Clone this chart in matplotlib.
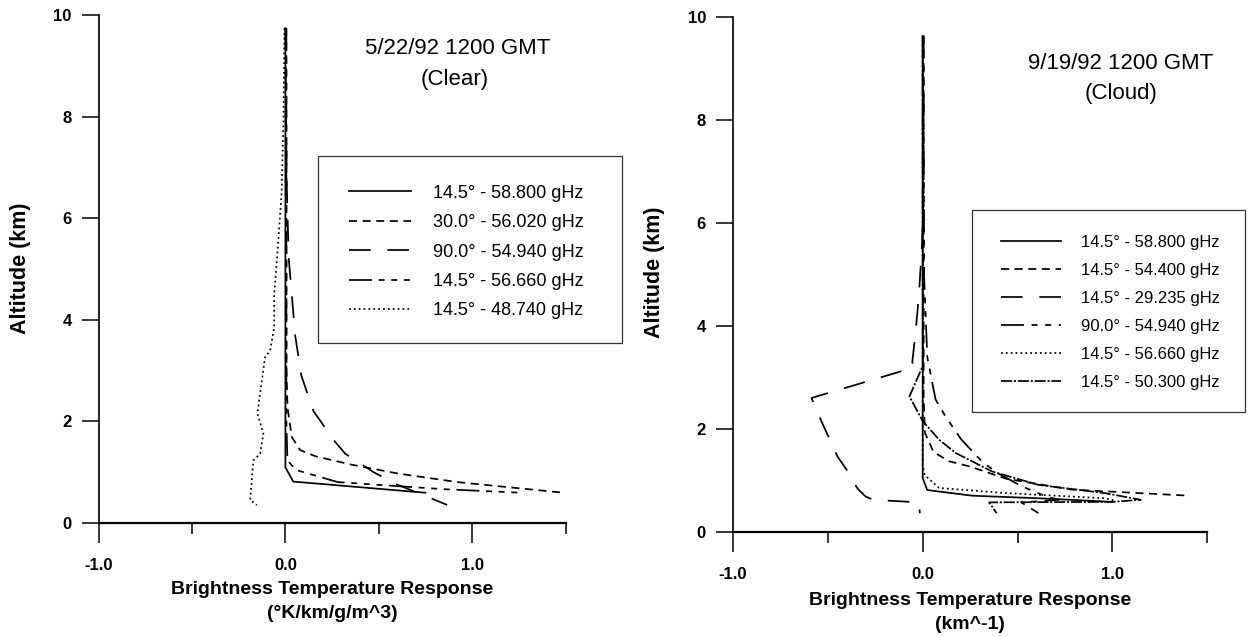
import matplotlib
matplotlib.use("Agg")
import matplotlib.pyplot as plt
from matplotlib.lines import Line2D
from matplotlib.patches import Rectangle

plt.rcParams['font.family'] = ['Liberation Sans', 'DejaVu Sans']
plt.rcParams['lines.scale_dashes'] = False

# ---------------- data: left panel (5/22/92 clear) ----------------
left_labels = ["14.5\u00b0 - 58.800 gHz", "30.0\u00b0 - 56.020 gHz", "90.0\u00b0 - 54.940 gHz",
               "14.5\u00b0 - 56.660 gHz", "14.5\u00b0 - 48.740 gHz"]
l_5880_x = [0.0, 0.0, 0.042, 0.75]
l_5880_y = [9.74, 1.09, 0.81, 0.59]
l_5602_x = [0.005, 0.006, 0.011, 0.034, 0.079, 0.16, 0.345, 0.60, 0.92, 1.49]
l_5602_y = [9.74, 3.0, 2.28, 1.69, 1.43, 1.31, 1.15, 0.97, 0.80, 0.59]
l_5494_x = [0.0, 0.004, 0.008, 0.018, 0.034, 0.052, 0.085, 0.15, 0.26, 0.32, 0.47, 0.58, 0.70, 0.866]
l_5494_y = [9.74, 7.8, 6.5, 5.2, 4.5, 3.7, 2.9, 2.2, 1.62, 1.36, 1.0, 0.78, 0.60, 0.35]
l_5666_x = [0.005, 0.005, 0.011, 0.055, 0.28, 0.60, 0.85, 1.26]
l_5666_y = [9.74, 2.0, 1.23, 1.04, 0.80, 0.72, 0.66, 0.59]
l_4874_x = [-0.005, -0.01, -0.02, -0.045, -0.06, -0.06, -0.082, -0.109, -0.15, -0.118, -0.135, -0.171, -0.189, -0.153]
l_4874_y = [9.74, 8.0, 6.5, 5.2, 4.5, 3.85, 3.39, 3.26, 2.15, 1.76, 1.36, 1.23, 0.446, 0.348]

# ---------------- data: right panel (9/19/92 cloud) ----------------
right_labels = ["14.5\u00b0 - 58.800 gHz", "14.5\u00b0 - 54.400 gHz", "14.5\u00b0 - 29.235 gHz",
                "90.0\u00b0 - 54.940 gHz", "14.5\u00b0 - 56.660 gHz", "14.5\u00b0 - 50.300 gHz"]
r_5880_x = [0.0, 0.0, 0.024, 0.26, 0.61, 1.0]
r_5880_y = [9.64, 1.04, 0.81, 0.70, 0.65, 0.58]
r_5440_x = [0.005, 0.005, 0.012, 0.057, 0.138, 0.246, 0.44, 0.78, 1.405]
r_5440_y = [9.64, 2.6, 1.92, 1.55, 1.37, 1.27, 1.03, 0.82, 0.70]
r_2924_x = [0.0, 0.0, -0.005, -0.02, -0.037, -0.055, -0.048, -0.586, -0.554, -0.449, -0.40, -0.344, -0.30, -0.26, -0.02, -0.015]
r_2924_y = [9.64, 6.0, 5.5, 4.6, 3.9, 3.3, 3.19, 2.6, 2.31, 1.46, 1.2, 0.84, 0.68, 0.62, 0.57, 0.36]
r_5494_x = [0.005, 0.007, 0.024, 0.05, 0.068, 0.12, 0.204, 0.313, 0.394, 0.524, 0.647, 0.717, 0.52, 0.61]
r_5494_y = [9.64, 5.0, 3.4, 2.9, 2.57, 2.24, 1.79, 1.36, 1.14, 0.88, 0.69, 0.62, 0.57, 0.36]
r_5666_x = [0.0, 0.0, 0.01, 0.086, 0.44, 0.96, 1.02]
r_5666_y = [9.64, 1.3, 1.1, 0.85, 0.75, 0.65, 0.60]
r_5030_x = [0.0, 0.0, -0.07, 0.0, 0.086, 0.174, 0.366, 0.61, 0.96, 1.15, 1.0, 0.35, 0.39]
r_5030_y = [9.64, 3.22, 2.63, 2.15, 1.79, 1.53, 1.17, 0.91, 0.75, 0.62, 0.58, 0.57, 0.36]

x_major = [-1.0, 0.0, 1.0]
x_major_labels = ["-1.0", "0.0", "1.0"]
x_minor = [-0.5, 0.5, 1.5]
y_ticks = [0, 2, 4, 6, 8, 10]
y_tick_labels = ["0", "2", "4", "6", "8", "10"]

# ---------------- styles ----------------
SOLID = '-'
SHORT = (0, (5.8, 4.0))
LONG = (0, (15.6, 12.0))
LSSS = (0, (16.5, 4.8, 4.3, 4.8, 4.3, 4.8, 4.3, 4.8))
LSS = (0, (16.5, 5.5, 4.3, 5.5, 4.3, 5.5))
DOT = (0, (1.3, 2.2))
DDOT = (0, (8.0, 1.3, 1.5, 1.3))
LW = 1.25

W, H = 1255, 637
def fx(px):
    return px / W
def fy(py):
    return 1 - py / H

fig = plt.figure(figsize=(W / 100, H / 100), dpi=100)
axL = fig.add_axes([fx(98.6), fy(522.7), (565.6 - 98.6) / W, (522.7 - 15) / H])
axR = fig.add_axes([fx(733), fy(531.7), (1207.3 - 733) / W, (531.7 - 17.3) / H])


def style_axis(ax):
    ax.set_xlim(-1, 1.5)
    ax.set_ylim(0, 10)
    for s in ('top', 'right'):
        ax.spines[s].set_visible(False)
    ax.spines['left'].set_linewidth(1.2)
    ax.spines['bottom'].set_linewidth(1.6)
    ax.set_xticks(x_major)
    ax.set_xticklabels(x_major_labels)
    ax.set_xticks(x_minor, minor=True)
    ax.set_yticks(y_ticks)
    ax.set_yticklabels(y_tick_labels)
    ax.tick_params(axis='x', which='major', direction='out', length=14.4, width=1.1, pad=11, labelsize=12)
    ax.tick_params(axis='x', which='minor', direction='out', length=7.7, width=1.1)
    ax.tick_params(axis='y', direction='out', length=12, width=1.1, pad=7.5, labelsize=12)
    for lab in ax.get_xticklabels() + ax.get_yticklabels():
        lab.set_fontweight('bold')


style_axis(axL)
style_axis(axR)

left_series = [(l_5880_x, l_5880_y, SOLID), (l_5602_x, l_5602_y, SHORT), (l_5494_x, l_5494_y, LONG),
               (l_5666_x, l_5666_y, LSSS), (l_4874_x, l_4874_y, DOT)]
right_series = [(r_5880_x, r_5880_y, SOLID), (r_5440_x, r_5440_y, SHORT), (r_2924_x, r_2924_y, LONG),
                (r_5494_x, r_5494_y, LSS), (r_5666_x, r_5666_y, DOT), (r_5030_x, r_5030_y, DDOT)]

for (xs, ys, st), lab in zip(left_series, left_labels):
    axL.plot(xs, ys, color='black', lw=LW, linestyle=st, label=lab)
for (xs, ys, st), lab in zip(right_series, right_labels):
    axR.plot(xs, ys, color='black', lw=LW, linestyle=st, label=lab)

# legends
hL = [Line2D([], [], color='black', lw=LW, linestyle=st) for _, _, st in left_series]
axL.legend(hL, left_labels, loc='upper left', bbox_to_anchor=(fx(349), fy(184.6)),
           bbox_transform=fig.transFigure, frameon=False, borderpad=0, borderaxespad=0,
           handlelength=3.43, handletextpad=1.2, labelspacing=0.69, fontsize=13)
fig.add_artist(Rectangle((fx(318), fy(343)), (622 - 318) / W, (343 - 156) / H,
                         transform=fig.transFigure, fill=False, edgecolor='#333333', lw=0.9))

hR = [Line2D([], [], color='black', lw=LW, linestyle=st) for _, _, st in right_series]
axR.legend(hR, right_labels, loc='upper left', bbox_to_anchor=(fx(1001.4), fy(234.7)),
           bbox_transform=fig.transFigure, frameon=False, borderpad=0, borderaxespad=0,
           handlelength=3.55, handletextpad=1.2, labelspacing=0.78, fontsize=12)
fig.add_artist(Rectangle((fx(972), fy(412)), (1245 - 972) / W, (412 - 210) / H,
                         transform=fig.transFigure, fill=False, edgecolor='#333333', lw=0.9))

# titles
fig.text(fx(458), fy(48.3), "5/22/92 1200 GMT", ha='center', va='center', fontsize=16)
fig.text(fx(455), fy(80), "(Clear)", ha='center', va='center', fontsize=16)
fig.text(fx(1121), fy(63.3), "9/19/92 1200 GMT", ha='center', va='center', fontsize=16)
fig.text(fx(1121), fy(93.3), "(Cloud)", ha='center', va='center', fontsize=16)

# axis labels
axL.set_ylabel("Altitude (km)", fontsize=15.5, fontweight='bold')
axL.yaxis.set_label_coords(-0.144, 0.502)
axR.set_ylabel("Altitude (km)", fontsize=15.5, fontweight='bold')
axR.yaxis.set_label_coords(-0.144, 0.505)
axL.set_xlabel("Brightness Temperature Response\n(\u00b0K/km/g/m^3)", fontsize=14, fontweight='bold', linespacing=1.57)
axL.xaxis.set_label_coords(0.5, -0.114)
axR.set_xlabel("Brightness Temperature Response\n(km^-1)", fontsize=14, fontweight='bold', linespacing=1.55)
axR.xaxis.set_label_coords(0.5, -0.117)

fig.savefig("out.png", dpi=100)
